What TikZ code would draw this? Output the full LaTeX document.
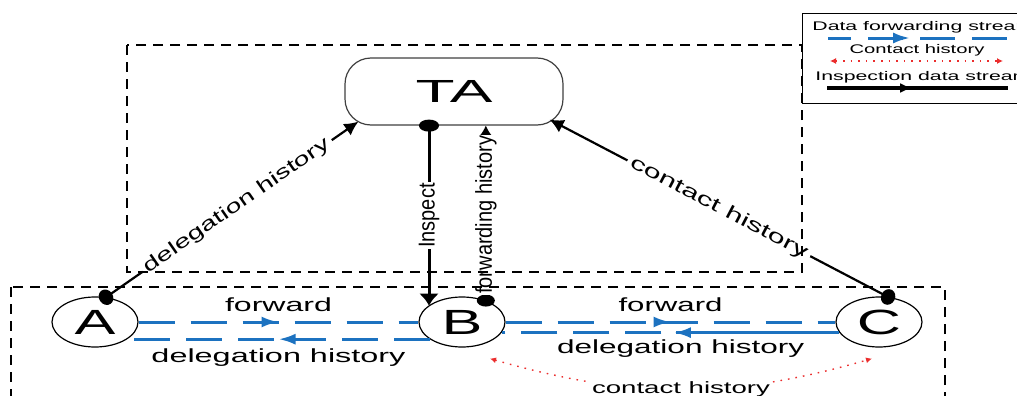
\documentclass[tikz,border=0pt]{standalone}
\usepackage{fontspec}
\setmainfont{Liberation Sans}
\usetikzlibrary{arrows.meta,shapes.geometric,decorations.markings,calc}
\definecolor{flowblue}{RGB}{28,114,192}
\definecolor{contactred}{RGB}{235,45,45}
% stretch a text horizontally to a given width, keeping its height
\newcommand{\widetext}[2]{\resizebox{#1}{\height}{#2}}

\begin{document}
\begin{tikzpicture}[x=0.5pt, y=-0.5pt,
  region/.style={draw=black, line width=0.7pt, dash pattern=on 5pt off 3.5pt},
  authority/.style={draw=black!75, line width=0.6pt, rounded corners=13pt,
    minimum width=109pt, minimum height=33.5pt, inner sep=0pt, fill=white},
  peer/.style={ellipse, draw=black, line width=0.6pt, minimum width=43pt,
    minimum height=25pt, inner sep=0pt, fill=white, font=\fontsize{17.5}{20}\selectfont},
  flow/.style={draw=flowblue, line width=1.5pt, dash pattern=on 18pt off 8pt},
  arrowat/.style={postaction={decorate, decoration={markings,
    mark=at position #1 with {\arrow{Latex[length=8.5pt,width=5.5pt]}}}}},
  flowlabel/.style={font=\fontsize{9.5}{11}\selectfont, inner sep=0pt},
  probe/.style={draw=black, line width=1.5pt, shorten <=-3pt,
    {Ellipse[length=6pt,width=10pt]}-{Latex[length=6pt,width=10pt]}},
  report/.style={draw=black, line width=1.1pt, shorten <=-3pt,
    {Ellipse[length=6pt,width=9pt]}-{Latex[length=6pt,width=8pt]}},
  slantreport/.style={draw=black, line width=1.1pt, shorten <=-3.5pt,
    {Ellipse[length=7pt,width=8pt]}-{Latex[length=7pt,width=7pt]}},
  linelabel/.style={fill=white, inner xsep=0.5pt, inner ysep=0.5pt,
    font=\fontsize{10}{12}\selectfont},
  slantlabel/.style={fill=white, inner xsep=2pt, inner ysep=0.5pt,
    font=\fontsize{9.5}{11}\selectfont},
  contact/.style={draw=contactred, line width=0.7pt, dash pattern=on 0.8pt off 3pt,
    {Latex[length=3pt,width=3pt]}-{Latex[length=3pt,width=3pt]}},
  keytext/.style={font=\fontsize{6.25}{7.5}\selectfont, inner sep=0pt},
]
\useasboundingbox (0,0) rectangle (1017,396);
\clip (0,0) rectangle (1017,396);

% trusted authority and the three peers
\node[authority] (TA) at (454,91.5) {\widetext{38.5pt}{\fontsize{16}{19}\selectfont TA}};
\node[peer] (A) at (95,322) {\scalebox{1.75}[1]{A}};
\node[peer] (B) at (462,322) {\scalebox{1.75}[1]{B}};
\node[peer] (C) at (879,322) {\scalebox{1.75}[1]{C}};

% attachment points on the lower edge of TA and below the peers
\coordinate (TAsw) at ($(TA.south west)+(14,-4)$);
\coordinate (TAse) at ($(TA.south east)+(-14,-6)$);
\coordinate (TAin) at ($(TA.south)+(-25,0)$);
\coordinate (Btail) at ($(B.south)+(28,11)$);
\coordinate (Ctail) at ($(C.south)+(-7,11)$);

% data forwarding between the peers
\draw[flow, arrowat=0.5] (A.east) -- (B.west)
  node[flowlabel, pos=0.5, yshift=8.5pt] (fwdAB) {\widetext{53.5pt}{forward}};
\draw[flow, arrowat=0.5] (B.208) -- (A.-28)
  node[flowlabel, pos=0.5, yshift=-9.25pt] (delAB) {\widetext{127pt}{delegation history}};
\draw[flow, arrowat=0.5] (B.east) -- (C.west)
  node[flowlabel, pos=0.5, yshift=8.5pt] (fwdBC) {\widetext{52pt}{forward}};
\draw[flow, dash pattern=on 81.5pt off 7.5pt on 18pt off 8pt on 18pt off 8pt on 18pt off 8pt on 18pt off 8pt,
      arrowat=0.49] (C.195.9) -- (B.-15.9)
  node[flowlabel, pos=0.47, yshift=-8pt] (delBC) {\widetext{123.5pt}{delegation history}};

% inspection and reports to TA
\draw[probe] (TAin) -- (TAin |- B.154)
  node[linelabel, pos=0.5, rotate=90] (insp) {\scalebox{1}[1.15]{Inspect}};
\draw[report] (B.42) -- (B.42 |- TA.south)
  node[linelabel, pos=0.49, rotate=90] (fwdhist) {\scalebox{1}[1.15]{forwarding history}};
\draw[slantreport] (A.66) -- (TAsw)
  node[slantlabel, sloped, pos=0.52] (delhist) {\widetext{111pt}{delegation history}};
\draw[slantreport] (C.70) -- (TAse)
  node[slantlabel, sloped, pos=0.5] (conhist) {\widetext{99pt}{contact history}};

% contact history between B and C
\draw[contact] (Btail) to[out=-16, in=-164]
  node[pos=0.5, fill=white, inner sep=1pt, font=\fontsize{8.2}{10}\selectfont] (conBC)
  {\widetext{89pt}{contact history}} (Ctail);

% dashed regions
\draw[region] (127,45) rectangle (802,272);
\draw[region] (11,287) rectangle (945,430);

% legend
\node[draw=black, line width=0.6pt, fill=white, anchor=north west, inner sep=0pt,
      minimum width=125pt, minimum height=45pt] (legend) at (802,13) {};
\node[keytext, anchor=base west] (key1) at (812,30) {\scalebox{1.7}[1]{Data forwarding stream}};
\coordinate (k1a) at (828,38);
\coordinate (k1b) at (1008,38);
\draw[flow, dash pattern=on 17.5pt off 8.5pt, dash phase=6pt, arrowat=0.456] (k1a) -- (k1b);
\node[keytext, anchor=base] (key2) at (917,54) {\widetext{67.5pt}{Contact history}};
\coordinate (k2a) at (830,61);
\coordinate (k2b) at (1003,61);
\draw[contact] (k2a) -- (k2b);
\node[keytext, anchor=base west] (key3) at (815,80) {\scalebox{1.7}[1]{Inspection data stream}};
\coordinate (k3a) at (827,88);
\coordinate (k3b) at (1008,88);
\draw[draw=black, line width=2pt, postaction={decorate, decoration={markings,
  mark=at position 0.47 with {\arrow{Latex[length=6pt,width=5pt]}}}}] (k3a) -- (k3b);
\end{tikzpicture}
\end{document}
